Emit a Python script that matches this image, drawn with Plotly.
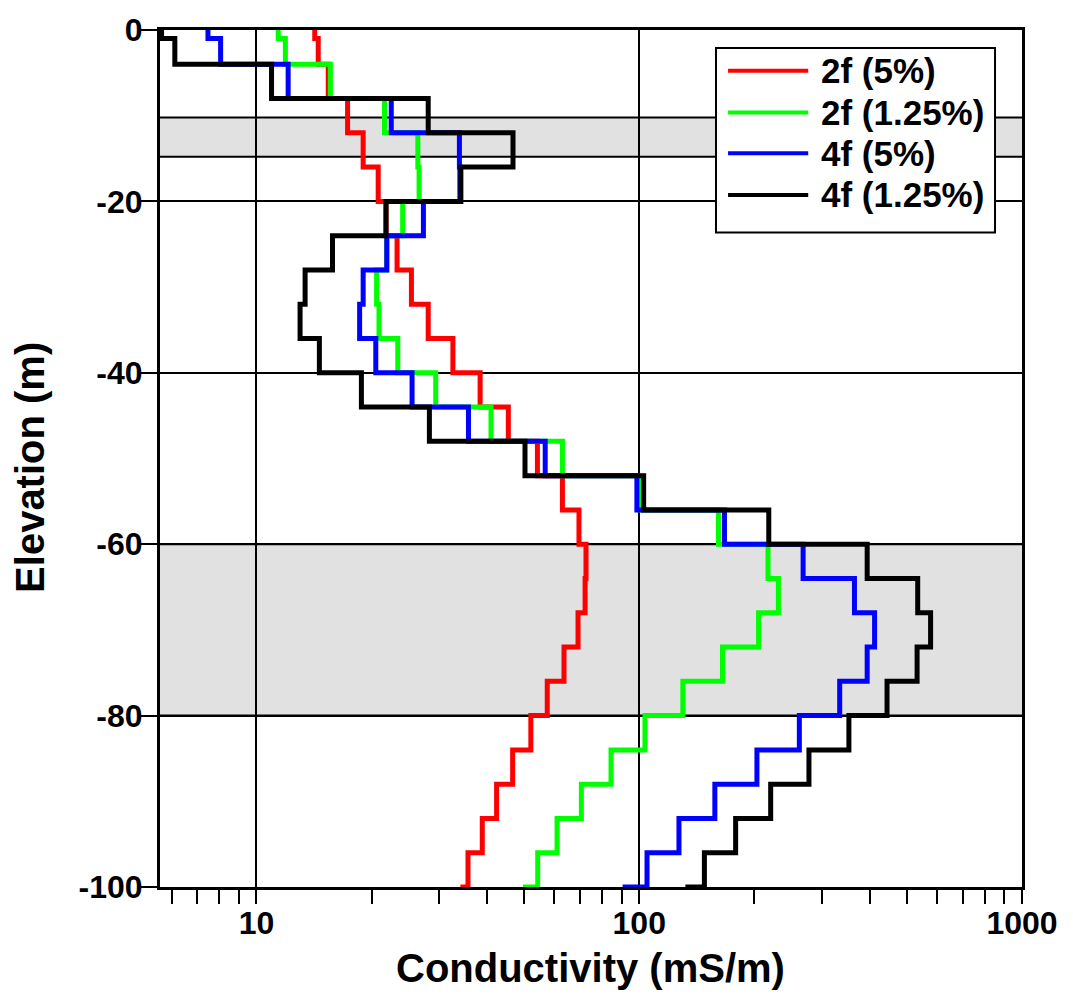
import plotly.graph_objects as go

# Layer tops (m); the last entry is the top of the half-space at -100 m
layer_top = [0, -1, -4, -8, -12, -16, -20, -24, -28, -32, -36, -40, -44, -48,
             -52, -56, -60, -64, -68, -72, -76, -80, -84, -88, -92, -96, -100]

# Layer conductivities (mS/m) for each inversion
cond_2f_5 = [14.2, 14.5, 15.4, 17.3, 19.0, 20.8, 21.8, 23.3, 25.4, 28.1, 32.6, 38.4,
             45.5, 54.2, 63.0, 69.6, 72.6, 72.2, 69.2, 63.6, 57.5, 52.1, 46.7,
             42.4, 38.9, 35.7, 34.1]
cond_2f_125 = [11.4, 11.9, 15.6, 21.6, 26.4, 26.6, 24.1, 21.9, 20.6, 20.9, 23.4, 29.4,
               41.0, 63.0, 100.0, 161.0, 217.0, 231.0, 205.0, 165.0, 130.0, 103.5,
               84.4, 70.6, 61.0, 54.3, 49.7]
cond_4f_5 = [7.47, 8.06, 12.1, 22.5, 33.9, 34.0, 27.3, 21.9, 19.0, 18.6, 20.5, 25.5,
             35.8, 56.8, 98.6, 167.0, 268.0, 365.0, 412.0, 394.0, 334.0, 262.0,
             203.0, 157.6, 127.0, 104.8, 90.5]
cond_4f_125 = [5.65, 6.12, 10.95, 28.1, 46.8, 34.2, 21.8, 15.8, 13.4, 13.0, 14.6, 18.8,
               28.3, 50.3, 102.7, 218.0, 394.0, 534.0, 577.0, 532.0, 444.0, 353.0,
               277.6, 220.5, 178.6, 148.0, 132.0]

series_names = ["2f (5%)", "2f (1.25%)", "4f (5%)", "4f (1.25%)"]
series_values = [cond_2f_5, cond_2f_125, cond_4f_5, cond_4f_125]
series_colors = ["#ff0000", "#00ff00", "#0000ff", "#000000"]

# Shaded elevation intervals (m)
bands = [(-14.8, -10.2), (-80, -60)]

x_major = [10, 100, 1000]
x_major_text = ["10", "100", "1000"]
x_minor = [6, 7, 8, 9, 20, 30, 40, 50, 60, 70, 80, 90,
           200, 300, 400, 500, 600, 700, 800, 900]
y_ticks = [0, -20, -40, -60, -80, -100]
y_tick_text = ["0", "-20", "-40", "-60", "-80", "-100"]

FONT = "Liberation Sans, Arial, sans-serif"

fig = go.Figure()
for name, vals, col in zip(series_names, series_values, series_colors):
    fig.add_trace(go.Scatter(
        x=vals, y=layer_top, mode="lines", name=name,
        line=dict(color=col, width=5, shape="vh"),
        showlegend=False,
    ))

shapes = []
for y0, y1 in bands:
    shapes.append(dict(type="rect", xref="x domain", yref="y", x0=0, x1=1,
                       y0=y0, y1=y1, fillcolor="#e1e1e1", line_width=0,
                       layer="below"))
    for yy in (y0, y1):
        shapes.append(dict(type="line", xref="x domain", yref="y", x0=0, x1=1,
                           y0=yy, y1=yy, line=dict(color="black", width=2),
                           layer="below"))

# Legend box drawn in axis-domain coordinates
lg_x0, lg_x1, lg_y0, lg_y1 = 0.6450, 0.9687, 0.7636, 0.9790
shapes.append(dict(type="rect", xref="x domain", yref="y domain",
                   x0=lg_x0, x1=lg_x1, y0=lg_y0, y1=lg_y1,
                   fillcolor="white", line=dict(color="black", width=2),
                   layer="above"))
row_y = [0.9525, 0.9038, 0.8563, 0.8076]
annotations = []
for name, col, ry in zip(series_names, series_colors, row_y):
    shapes.append(dict(type="line", xref="x domain", yref="y domain",
                       x0=0.659, x1=0.752, y0=ry, y1=ry,
                       line=dict(color=col, width=4), layer="above"))
    annotations.append(dict(text=name, xref="x domain", yref="y domain",
                            x=0.765, y=ry, xanchor="left", yanchor="middle",
                            showarrow=False,
                            font=dict(family=FONT, size=35, color="black",
                                      weight="bold")))

# Axis titles
annotations.append(dict(text="Conductivity (mS/m)", xref="x domain",
                        yref="y domain", x=0.499, y=-0.094, xanchor="center",
                        yanchor="middle", showarrow=False,
                        font=dict(family=FONT, size=40, color="black",
                                  weight="bold")))
annotations.append(dict(text="Elevation (m)", xref="x domain", yref="y domain",
                        x=-0.151, y=0.49, xanchor="center", yanchor="middle",
                        textangle=-90, showarrow=False,
                        font=dict(family=FONT, size=40, color="black",
                                  weight="bold")))

fig.update_layout(
    width=1073, height=996,
    margin=dict(l=160, r=51, t=22, b=109),
    paper_bgcolor="white", plot_bgcolor="white",
    shapes=shapes, annotations=annotations,
    showlegend=False,
)
fig.update_xaxes(
    type="log", range=[0.748, 3.0],
    tickvals=x_major, ticktext=x_major_text,
    ticks="outside", ticklen=14, tickwidth=2, tickcolor="black",
    tickfont=dict(family=FONT, size=32, color="black", weight="bold"),
    ticklabelstandoff=-8,
    showgrid=True, gridcolor="black", gridwidth=1.5,
    showline=True, linecolor="black", linewidth=3, mirror=True,
    zeroline=False,
    minor=dict(tickvals=x_minor, ticks="outside", ticklen=14, tickwidth=2,
               tickcolor="black", showgrid=False),
)
fig.update_yaxes(
    range=[-100, 0], tickvals=y_ticks, ticktext=y_tick_text,
    ticks="outside", ticklen=16, tickwidth=2, tickcolor="black",
    tickfont=dict(family=FONT, size=32, color="black", weight="bold"),
    ticklabelstandoff=-8,
    showgrid=True, gridcolor="black", gridwidth=1.5,
    showline=True, linecolor="black", linewidth=3, mirror=True,
    zeroline=False,
)

fig.write_html("out.html")
